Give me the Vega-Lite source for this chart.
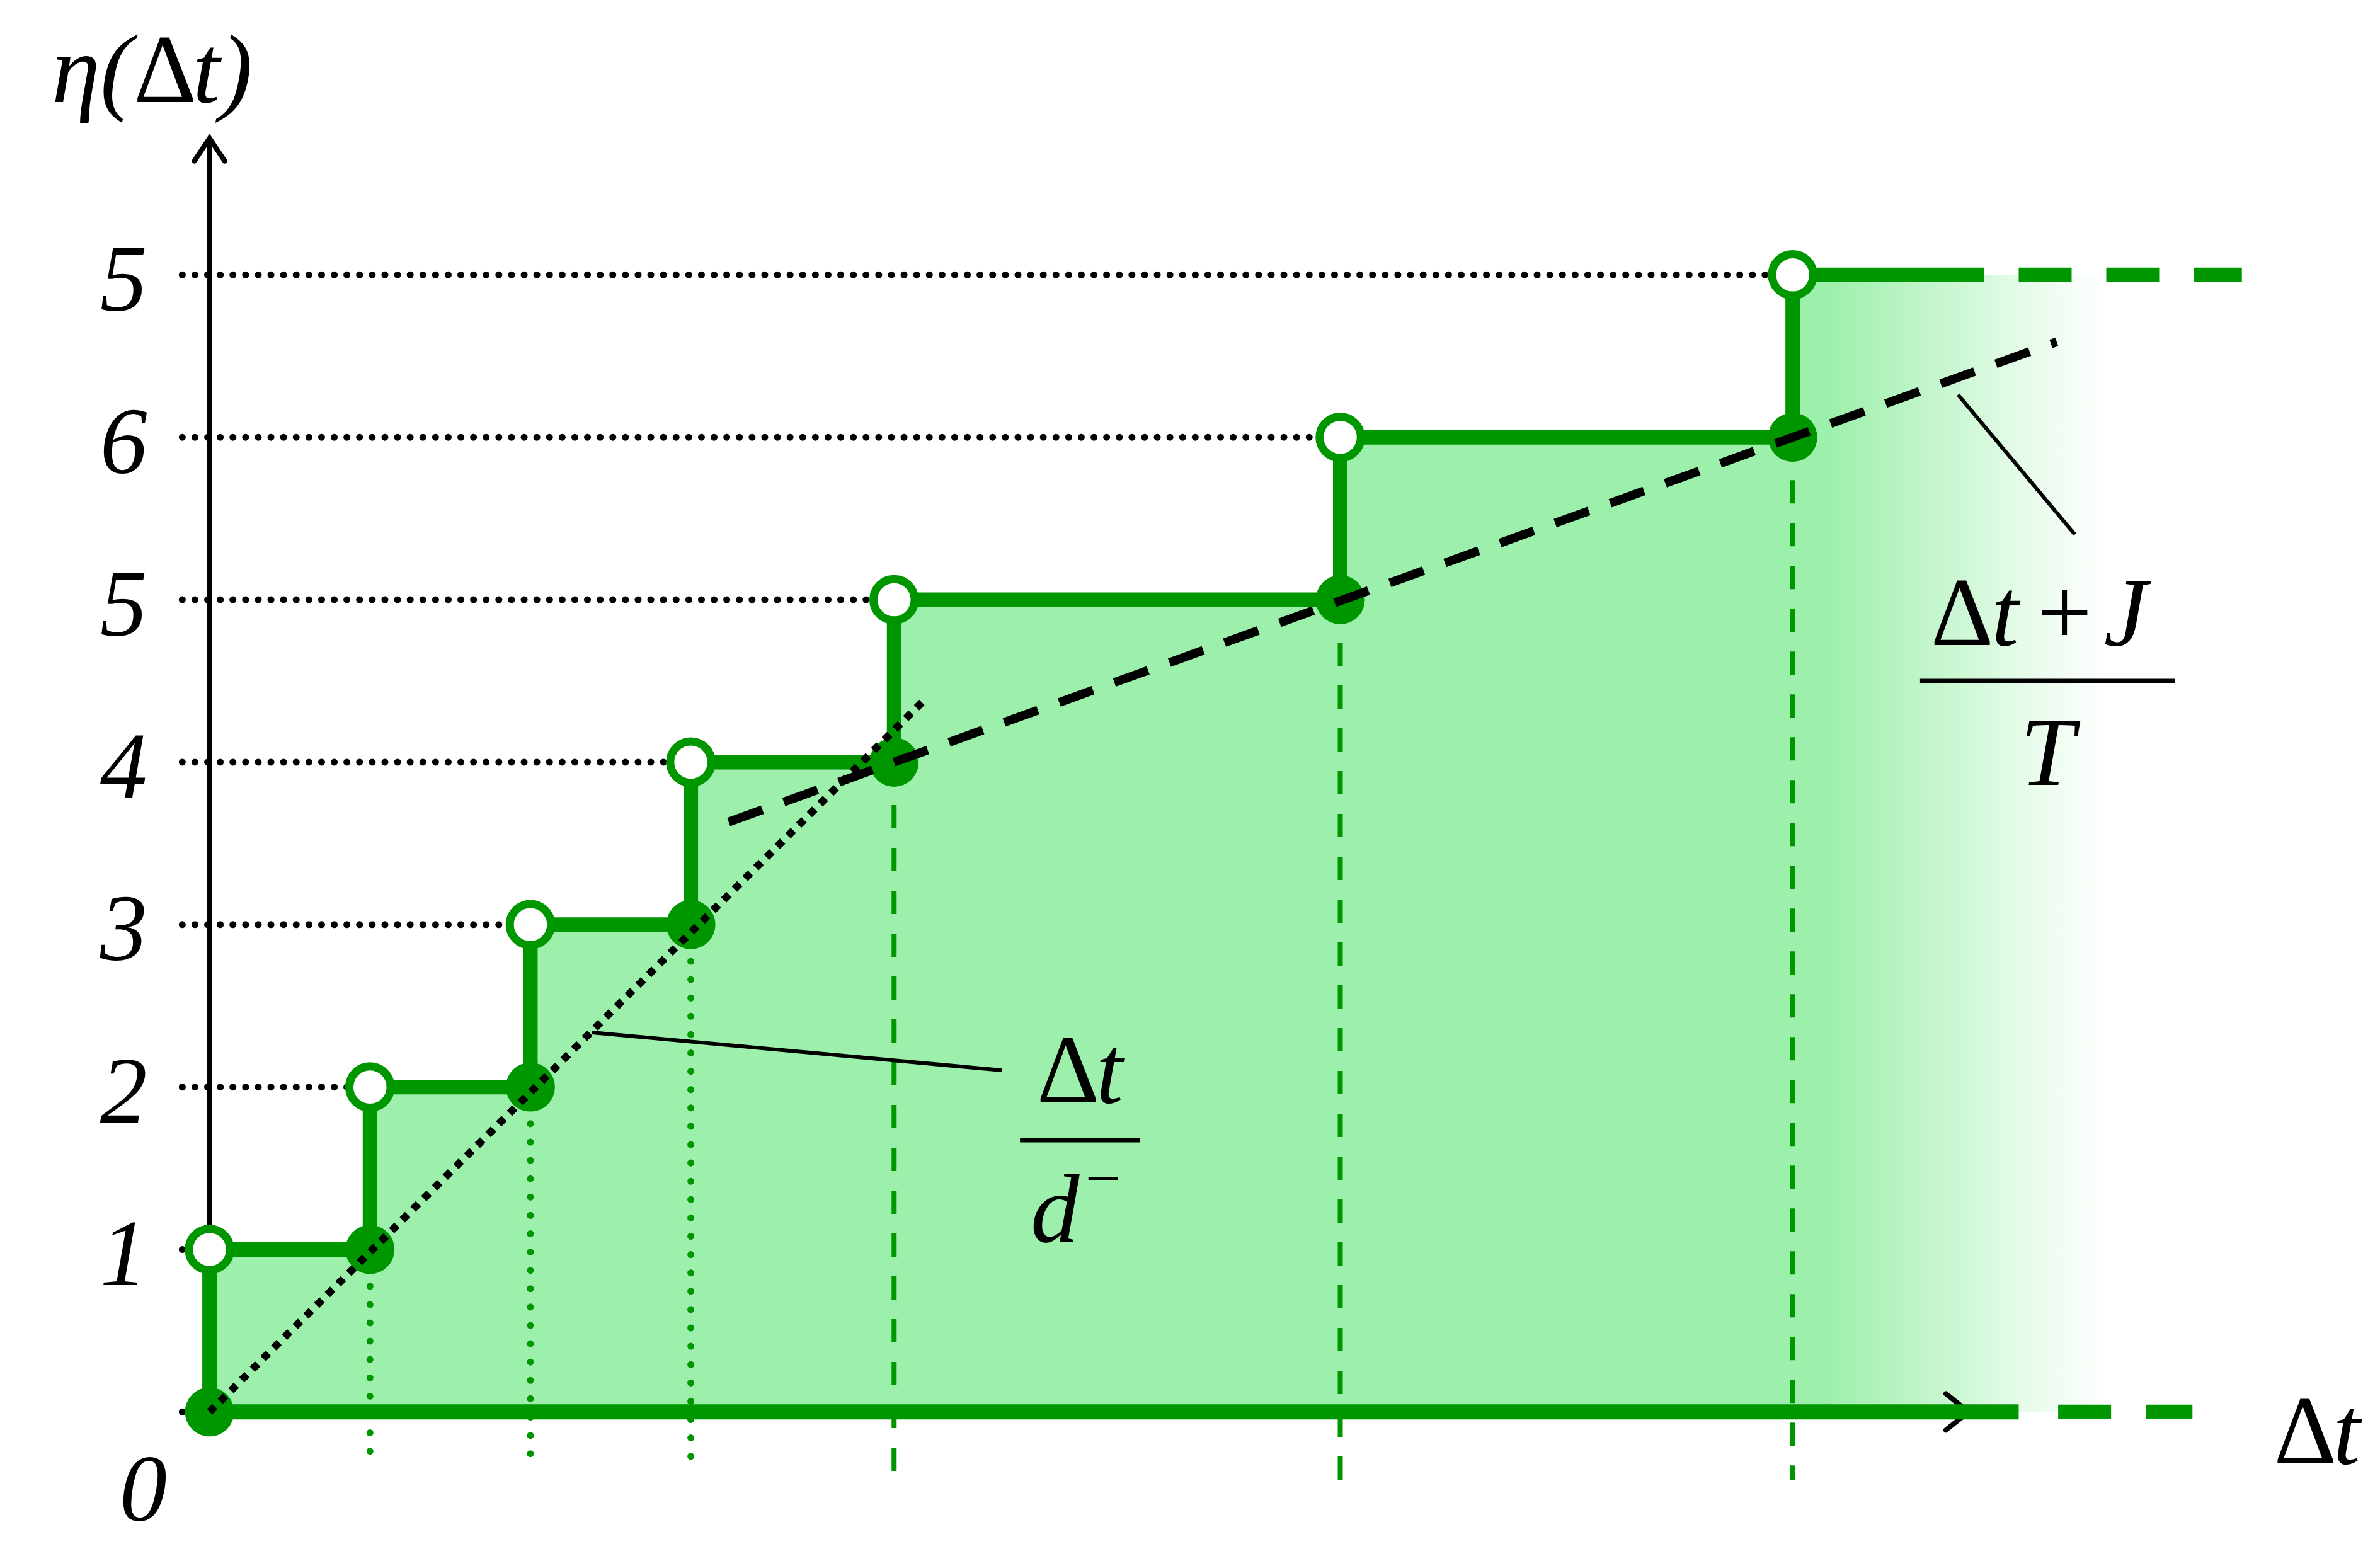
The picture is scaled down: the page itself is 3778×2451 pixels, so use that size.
{
  "$schema": "https://vega.github.io/schema/vega-lite/v6.json",
  "width": 3778,
  "height": 2451,
  "autosize": {"type": "fit", "contains": "padding"},
  "padding": 0,
  "background": "#ffffff",
  "config": {"view": {"stroke": null}},
  "datasets": {
    "fill": [{"x":0,"y":1},{"x":1,"y":2},{"x":2,"y":3},{"x":3,"y":4},{"x":4.267,"y":5},{"x":7.048,"y":6},{"x":9.868,"y":7},{"x":11.835,"y":7}],
    "step": [{"x":0,"y":0},{"x":0,"y":1},{"x":1,"y":2},{"x":2,"y":3},{"x":3,"y":4},{"x":4.267,"y":5},{"x":7.048,"y":6},{"x":9.868,"y":7},{"x":11.06,"y":7}],
    "filled": [{"x":0,"y":0},{"x":1,"y":1},{"x":2,"y":2},{"x":3,"y":3},{"x":4.267,"y":4},{"x":7.048,"y":5},{"x":9.868,"y":6}],
    "open": [{"x":0,"y":1},{"x":1,"y":2},{"x":2,"y":3},{"x":3,"y":4},{"x":4.267,"y":5},{"x":7.048,"y":6},{"x":9.868,"y":7}],
    "grid": [{"y":0,"x":-0.17,"x2":0},{"y":1,"x":-0.17,"x2":0},{"y":2,"x":-0.17,"x2":1},{"y":3,"x":-0.17,"x2":2},{"y":4,"x":-0.17,"x2":3},{"y":5,"x":-0.17,"x2":4.267},{"y":6,"x":-0.17,"x2":7.048},{"y":7,"x":-0.17,"x2":9.868}],
    "vdot": [{"x":1,"y":1,"y2":-0.346},{"x":2,"y":2,"y2":-0.346},{"x":3,"y":3,"y2":-0.346}],
    "vdash": [{"x":4.267,"y":4,"y2":-0.421},{"x":7.048,"y":5,"y2":-0.421},{"x":9.868,"y":6,"y2":-0.421}],
    "gsolid": [{"x":0,"x2":11.277,"y":0}],
    "gdash": [{"x":11.523,"x2":12.36,"y":0},{"x":11.277,"x2":12.668,"y":7}],
    "axisv": [{"x":0,"y":0,"y2":7.841}],
    "axish": [{"x":0,"x2":10.965,"y":0}],
    "arrows": [
      {"g":"v","o":1,"x":-0.0946,"y":7.701},{"g":"v","o":2,"x":0,"y":7.841},{"g":"v","o":3,"x":0.0946,"y":7.701},
      {"g":"h","o":1,"x":10.823,"y":0.112},{"g":"h","o":2,"x":10.965,"y":0},{"g":"h","o":3,"x":10.823,"y":-0.112}
    ],
    "diag": [{"x":0,"y":0},{"x":4.466,"y":4.393}],
    "trend": [{"x":3.236,"y":3.632},{"x":11.514,"y":6.588}],
    "leaders": [
      {"g":"a","x":2.384,"y":2.336},{"g":"a","x":4.939,"y":2.103},
      {"g":"b","x":10.899,"y":6.262},{"g":"b","x":11.627,"y":5.402}
    ],
    "bars": [{"x":5.052,"x2":5.8,"y":1.673},{"x":10.662,"x2":12.252,"y":4.5}],
    "ticks": [
      {"t":"0","x":-0.265,"y":-0.67},
      {"t":"1","x":-0.388,"y":0.78},
      {"t":"2","x":-0.388,"y":1.78},
      {"t":"3","x":-0.388,"y":2.78},
      {"t":"4","x":-0.388,"y":3.78},
      {"t":"5","x":-0.388,"y":4.78},
      {"t":"6","x":-0.388,"y":5.78},
      {"t":"5","x":-0.388,"y":6.78}
    ],
    "itext": [
      {"t":"η(","x":-0.984,"y":8.065},
      {"t":"t)","x":-0.104,"y":8.065},
      {"t":"t","x":13.236,"y":-0.318},
      {"t":"t","x":5.525,"y":1.907},
      {"t":"d","x":5.118,"y":1.047},
      {"t":"t","x":11.107,"y":4.72},
      {"t":"J","x":11.807,"y":4.72},
      {"t":"T","x":11.287,"y":3.86}
    ],
    "ntext": [
      {"t":"Δ","x":-0.473,"y":8.065},
      {"t":"Δ","x":12.867,"y":-0.318},
      {"t":"Δ","x":5.156,"y":1.907},
      {"t":"Δ","x":10.728,"y":4.72},
      {"t":"+","x":11.391,"y":4.72}
    ],
    "sup": [{"t":"−","x":5.459,"y":1.308}]
  },
  "layer": [
    {
      "data": {"name": "fill"},
      "mark": {"type": "area", "interpolate": "step-after",
        "fill": {"gradient": "linear", "x1": 0, "y1": 0, "x2": 1, "y2": 0,
          "stops": [
            {"offset": 0, "color": "#9CF0AB"},
            {"offset": 0.852, "color": "#9CF0AB"},
            {"offset": 0.911, "color": "#C6F6CE"},
            {"offset": 0.955, "color": "#E6FBE9"},
            {"offset": 1, "color": "#FFFFFF"}
          ]}},
      "encoding": {
        "x": {"field": "x", "type": "quantitative", "scale": {"domain": [-1.306, 13.529], "nice": false, "zero": false}, "axis": null},
        "y": {"field": "y", "type": "quantitative", "scale": {"domain": [-0.813, 8.692], "nice": false, "zero": false}, "axis": null},
        "y2": {"datum": 0}
      }
    },
    {
      "data": {"name": "vdot"},
      "mark": {"type": "rule", "color": "#009600", "strokeWidth": 11, "strokeDash": [0.1, 29], "strokeCap": "round"},
      "encoding": {
        "x": {"field": "x", "type": "quantitative"},
        "y": {"field": "y", "type": "quantitative"},
        "y2": {"field": "y2"}
      }
    },
    {
      "data": {"name": "vdash"},
      "mark": {"type": "rule", "color": "#009600", "strokeWidth": 8, "strokeDash": [37, 31]},
      "encoding": {
        "x": {"field": "x", "type": "quantitative"},
        "y": {"field": "y", "type": "quantitative"},
        "y2": {"field": "y2"}
      }
    },
    {
      "data": {"name": "grid"},
      "mark": {"type": "rule", "color": "#000000", "strokeWidth": 11, "strokeDash": [0.1, 20], "strokeCap": "round"},
      "encoding": {
        "x": {"field": "x", "type": "quantitative"},
        "x2": {"field": "x2"},
        "y": {"field": "y", "type": "quantitative"}
      }
    },
    {
      "data": {"name": "axisv"},
      "mark": {"type": "rule", "color": "#000000", "strokeWidth": 8},
      "encoding": {
        "x": {"field": "x", "type": "quantitative"},
        "y": {"field": "y", "type": "quantitative"},
        "y2": {"field": "y2"}
      }
    },
    {
      "data": {"name": "axish"},
      "mark": {"type": "rule", "color": "#000000", "strokeWidth": 8},
      "encoding": {
        "x": {"field": "x", "type": "quantitative"},
        "x2": {"field": "x2"},
        "y": {"field": "y", "type": "quantitative"}
      }
    },
    {
      "data": {"name": "arrows"},
      "mark": {"type": "line", "color": "#000000", "strokeWidth": 8, "strokeCap": "round", "strokeJoin": "miter"},
      "encoding": {
        "x": {"field": "x", "type": "quantitative"},
        "y": {"field": "y", "type": "quantitative"},
        "detail": {"field": "g"},
        "order": {"field": "o"}
      }
    },
    {
      "data": {"name": "gsolid"},
      "mark": {"type": "rule", "color": "#009600", "strokeWidth": 24},
      "encoding": {
        "x": {"field": "x", "type": "quantitative"},
        "x2": {"field": "x2"},
        "y": {"field": "y", "type": "quantitative"}
      }
    },
    {
      "data": {"name": "gdash"},
      "mark": {"type": "rule", "color": "#009600", "strokeWidth": 23, "strokeDash": [84, 55]},
      "encoding": {
        "x": {"field": "x", "type": "quantitative"},
        "x2": {"field": "x2"},
        "y": {"field": "y", "type": "quantitative"}
      }
    },
    {
      "data": {"name": "step"},
      "mark": {"type": "line", "interpolate": "step-after", "color": "#009600", "strokeWidth": 23},
      "encoding": {
        "x": {"field": "x", "type": "quantitative"},
        "y": {"field": "y", "type": "quantitative"}
      }
    },
    {
      "data": {"name": "filled"},
      "mark": {"type": "point", "shape": "circle", "filled": true, "color": "#009600", "opacity": 1, "size": 6082},
      "encoding": {
        "x": {"field": "x", "type": "quantitative"},
        "y": {"field": "y", "type": "quantitative"}
      }
    },
    {
      "data": {"name": "open"},
      "mark": {"type": "point", "shape": "circle", "filled": false, "fill": "#ffffff", "fillOpacity": 1, "stroke": "#009600", "strokeWidth": 13, "opacity": 1, "size": 4301},
      "encoding": {
        "x": {"field": "x", "type": "quantitative"},
        "y": {"field": "y", "type": "quantitative"}
      }
    },
    {
      "data": {"name": "diag"},
      "mark": {"type": "line", "color": "#000000", "strokeWidth": 12, "strokeDash": [12, 12]},
      "encoding": {
        "x": {"field": "x", "type": "quantitative"},
        "y": {"field": "y", "type": "quantitative"}
      }
    },
    {
      "data": {"name": "trend"},
      "mark": {"type": "line", "color": "#000000", "strokeWidth": 14, "strokeDash": [57, 36]},
      "encoding": {
        "x": {"field": "x", "type": "quantitative"},
        "y": {"field": "y", "type": "quantitative"}
      }
    },
    {
      "data": {"name": "leaders"},
      "mark": {"type": "line", "color": "#000000", "strokeWidth": 6},
      "encoding": {
        "x": {"field": "x", "type": "quantitative"},
        "y": {"field": "y", "type": "quantitative"},
        "detail": {"field": "g"}
      }
    },
    {
      "data": {"name": "bars"},
      "mark": {"type": "rule", "color": "#000000", "strokeWidth": 7},
      "encoding": {
        "x": {"field": "x", "type": "quantitative"},
        "x2": {"field": "x2"},
        "y": {"field": "y", "type": "quantitative"}
      }
    },
    {
      "data": {"name": "ticks"},
      "mark": {"type": "text", "font": "Liberation Serif", "fontStyle": "italic", "fontSize": 150, "align": "right", "baseline": "alphabetic", "color": "#000000"},
      "encoding": {
        "x": {"field": "x", "type": "quantitative"},
        "y": {"field": "y", "type": "quantitative"},
        "text": {"field": "t"}
      }
    },
    {
      "data": {"name": "itext"},
      "mark": {"type": "text", "font": "Liberation Serif", "fontStyle": "italic", "fontSize": 155, "align": "left", "baseline": "alphabetic", "color": "#000000", "clip": true},
      "encoding": {
        "x": {"field": "x", "type": "quantitative"},
        "y": {"field": "y", "type": "quantitative"},
        "text": {"field": "t"}
      }
    },
    {
      "data": {"name": "ntext"},
      "mark": {"type": "text", "font": "Liberation Serif", "fontSize": 155, "align": "left", "baseline": "alphabetic", "color": "#000000", "clip": true},
      "encoding": {
        "x": {"field": "x", "type": "quantitative"},
        "y": {"field": "y", "type": "quantitative"},
        "text": {"field": "t"}
      }
    },
    {
      "data": {"name": "sup"},
      "mark": {"type": "text", "font": "Liberation Serif", "fontSize": 100, "align": "left", "baseline": "alphabetic", "color": "#000000", "clip": true},
      "encoding": {
        "x": {"field": "x", "type": "quantitative"},
        "y": {"field": "y", "type": "quantitative"},
        "text": {"field": "t"}
      }
    }
  ]
}
